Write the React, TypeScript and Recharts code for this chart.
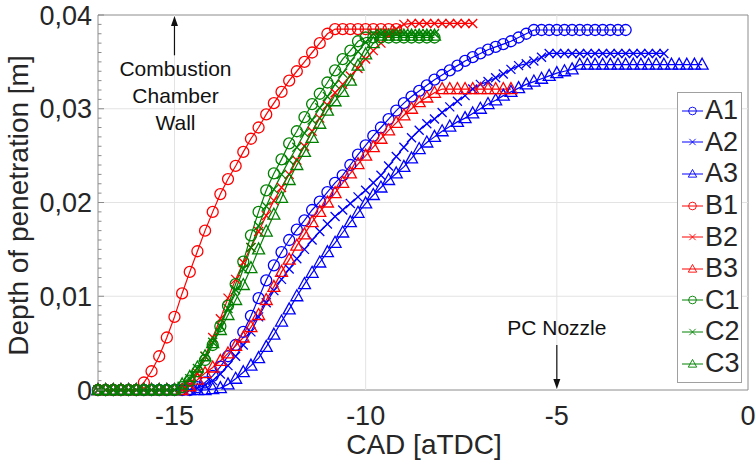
// Spray penetration depth vs crank angle for nine injection cases (A1..C3)
import React from 'react';
import {
  LineChart,
  Line,
  XAxis,
  YAxis,
  ReferenceLine,
  ReferenceArea,
  ReferenceDot,
} from 'recharts';

// crank angle samples [deg aTDC]
const cad = [
  -17, -16.8, -16.6, -16.4, -16.2, -16, -15.8, -15.6, -15.4, -15.2,
  -15, -14.8, -14.6, -14.4, -14.2, -14, -13.8, -13.6, -13.4, -13.2,
  -13, -12.8, -12.6, -12.4, -12.2, -12, -11.8, -11.6, -11.4, -11.2,
  -11, -10.8, -10.6, -10.4, -10.2, -10, -9.8, -9.6, -9.4, -9.2,
  -9, -8.8, -8.6, -8.4, -8.2, -8, -7.8, -7.6, -7.4, -7.2,
  -7, -6.8, -6.6, -6.4, -6.2, -6, -5.8, -5.6, -5.4, -5.2,
  -5, -4.8, -4.6, -4.4, -4.2, -4, -3.8, -3.6, -3.4, -3.2,
  -3, -2.8, -2.6, -2.4, -2.2, -2, -1.8, -1.6, -1.4, -1.2,
];

// penetration depth [m], one value per cad sample (series stop where they end)
const A1 = [
  0, 0, 0, 0, 0, 0, 0, 0, 0, 0,
  0, 0, 0, 0.0003, 0.0008, 0.0015, 0.0025, 0.0036, 0.0048, 0.0062,
  0.0079, 0.0098, 0.0117, 0.0133, 0.0147, 0.016, 0.0171, 0.0181, 0.0192, 0.0201,
  0.0211, 0.0221, 0.0229, 0.024, 0.0251, 0.0261, 0.0271, 0.028, 0.0289, 0.0298,
  0.0306, 0.0313, 0.0319, 0.0325, 0.0331, 0.0336, 0.0341, 0.0346, 0.0351, 0.0355,
  0.0359, 0.0363, 0.0366, 0.0369, 0.0372, 0.0376, 0.038, 0.0384, 0.0384, 0.0384,
  0.0384, 0.0384, 0.0384, 0.0384, 0.0384, 0.0384, 0.0384, 0.0384, 0.0384, 0.0384,
];
const A2 = [
  0, 0, 0, 0, 0, 0, 0, 0, 0, 0,
  0, 0, 0, 0.0002, 0.0005, 0.001, 0.0017, 0.0026, 0.0036, 0.0048,
  0.0062, 0.0078, 0.0093, 0.0106, 0.0118, 0.0129, 0.014, 0.015, 0.016, 0.0169,
  0.0177, 0.0185, 0.0192, 0.0199, 0.0206, 0.0213, 0.0221, 0.0229, 0.0239, 0.0249,
  0.0259, 0.0269, 0.0277, 0.0284, 0.0289, 0.0296, 0.0302, 0.0308, 0.0314, 0.0321,
  0.0326, 0.0329, 0.0333, 0.0337, 0.0342, 0.0346, 0.0348, 0.0351, 0.0355, 0.0359,
  0.0359, 0.0359, 0.0359, 0.0359, 0.0359, 0.0359, 0.0359, 0.0359, 0.0359, 0.0359,
  0.0359, 0.0359, 0.0359, 0.0359, 0.0359,
];
const A3 = [
  0, 0, 0, 0, 0, 0, 0, 0, 0, 0,
  0, 0, 0, 0, 0, 0.0001, 0.0002, 0.0006, 0.0012, 0.0019,
  0.0026, 0.0034, 0.0046, 0.0059, 0.0073, 0.0086, 0.01, 0.0113, 0.0125, 0.0136,
  0.0147, 0.0157, 0.0168, 0.0179, 0.0189, 0.0199, 0.0208, 0.0216, 0.0224, 0.0231,
  0.0238, 0.0247, 0.0257, 0.0264, 0.027, 0.0276, 0.0281, 0.0286, 0.029, 0.0295,
  0.03, 0.0305, 0.0309, 0.0314, 0.0318, 0.0322, 0.0326, 0.0329, 0.0332, 0.0335,
  0.0338, 0.034, 0.0342, 0.0347, 0.0347, 0.0347, 0.0347, 0.0347, 0.0347, 0.0347,
  0.0347, 0.0347, 0.0347, 0.0347, 0.0347, 0.0347, 0.0347, 0.0347, 0.0347, 0.0347,
];
const B1 = [
  0, 0, 0, 0, 0, 0, 0.0008, 0.002, 0.0036, 0.0056,
  0.0078, 0.0103, 0.0126, 0.0148, 0.017, 0.019, 0.0209, 0.0225, 0.0239, 0.0254,
  0.0268, 0.028, 0.0294, 0.0306, 0.0318, 0.033, 0.034, 0.035, 0.036, 0.037,
  0.038, 0.0385, 0.0385, 0.0385, 0.0385, 0.0385, 0.0385, 0.0385, 0.0385, 0.0385,
];
const B2 = [
  0, 0, 0, 0, 0, 0, 0, 0, 0, 0,
  0, 0, 0.0005, 0.0018, 0.0036, 0.0056, 0.0076, 0.0098, 0.0118, 0.0136,
  0.0152, 0.0169, 0.0186, 0.0202, 0.0216, 0.023, 0.0245, 0.026, 0.0276, 0.029,
  0.0304, 0.0317, 0.0326, 0.0335, 0.0343, 0.0353, 0.0362, 0.037, 0.0378, 0.0385,
  0.039, 0.0391, 0.0391, 0.0391, 0.0391, 0.0391, 0.0391, 0.0391, 0.0391, 0.0391,
];
const B3 = [
  0, 0, 0, 0, 0, 0, 0, 0, 0, 0,
  0, 0, 0.0004, 0.0011, 0.0018, 0.0024, 0.0031, 0.0039, 0.0047, 0.0056,
  0.0067, 0.008, 0.0096, 0.011, 0.0126, 0.0139, 0.0154, 0.0166, 0.0179, 0.019,
  0.02, 0.021, 0.0221, 0.0231, 0.0241, 0.025, 0.0259, 0.0268, 0.0277, 0.0285,
  0.0293, 0.03, 0.0307, 0.0312, 0.0317, 0.0321, 0.0321, 0.0321, 0.0321, 0.0321,
  0.0321, 0.0321, 0.0321, 0.0321, 0.0321,
];
const C1 = [
  0, 0, 0, 0, 0, 0, 0, 0, 0, 0,
  0, 0.0003, 0.001, 0.002, 0.0032, 0.0048, 0.0068, 0.009, 0.0113, 0.0137,
  0.0165, 0.019, 0.0213, 0.0231, 0.0246, 0.0263, 0.0276, 0.0291, 0.0305, 0.0316,
  0.0328, 0.0341, 0.0353, 0.0362, 0.0372, 0.0376, 0.0376, 0.0376, 0.0376, 0.0376,
  0.0376, 0.0376, 0.0376, 0.0376, 0.0376,
];
const C2 = [
  0, 0, 0, 0, 0, 0, 0, 0, 0, 0,
  0, 0.0004, 0.0012, 0.0023, 0.0036, 0.0051, 0.0068, 0.0087, 0.0107, 0.0129,
  0.0152, 0.0175, 0.0196, 0.0214, 0.023, 0.0245, 0.0259, 0.0274, 0.0288, 0.0301,
  0.0313, 0.0326, 0.0338, 0.035, 0.0361, 0.0371, 0.038, 0.038, 0.038, 0.038,
  0.038, 0.038, 0.038, 0.038, 0.038,
];
const C3 = [
  0, 0, 0, 0, 0, 0, 0, 0, 0, 0,
  0, 0.0006, 0.0014, 0.0024, 0.0036, 0.005, 0.0064, 0.008, 0.0096, 0.0112,
  0.013, 0.015, 0.0169, 0.0187, 0.0205, 0.0224, 0.024, 0.0254, 0.0269, 0.0284,
  0.0298, 0.0308, 0.0318, 0.033, 0.0346, 0.0358, 0.037, 0.0378, 0.0378, 0.0378,
  0.0378, 0.0378, 0.0378, 0.0378, 0.0378,
];

const xTicks = [-15, -10, -5, 0];
const yGrid = [0.01, 0.02, 0.03];
const xGrid = [-15, -10, -5];
// minor ticks every 0.001 m, labels only on the 0.01 ones
const yTicks = Array.from({ length: 41 }, (_, i) => i / 1000);

const BLUE = '#0000ff';
const RED = '#ff0000';
const GREEN = '#008000';
const TXT = '#262626';
const FONT = '"Liberation Sans", Arial, Helvetica, sans-serif';

type MarkerKind = 'o' | 'x' | '^';

const series: { name: string; values: number[]; color: string; marker: MarkerKind }[] = [
  { name: 'A1', values: A1, color: BLUE, marker: 'o' },
  { name: 'A2', values: A2, color: BLUE, marker: 'x' },
  { name: 'A3', values: A3, color: BLUE, marker: '^' },
  { name: 'B1', values: B1, color: RED, marker: 'o' },
  { name: 'B2', values: B2, color: RED, marker: 'x' },
  { name: 'B3', values: B3, color: RED, marker: '^' },
  { name: 'C1', values: C1, color: GREEN, marker: 'o' },
  { name: 'C2', values: C2, color: GREEN, marker: 'x' },
  { name: 'C3', values: C3, color: GREEN, marker: '^' },
];

const rows = cad.map((x, i) => {
  const r: Record<string, number> = { x };
  series.forEach((s) => {
    if (i < s.values.length) r[s.name] = s.values[i];
  });
  return r;
});

const isMajor = (v: number) => Math.abs(v * 100 - Math.round(v * 100)) < 1e-6;
const fmtY = (v: number) => (v === 0 ? '0' : v.toFixed(2).replace('.', ','));

/** hollow MATLAB-style marker */
function Marker({ kind, cx, cy, color }: { kind: MarkerKind; cx: number; cy: number; color: string }) {
  if (kind === 'o') {
    return <circle cx={cx} cy={cy} r={5.5} fill="none" stroke={color} strokeWidth={1.3} />;
  }
  if (kind === 'x') {
    return (
      <path
        d={`M${cx - 4.5},${cy - 4.5}L${cx + 4.5},${cy + 4.5}M${cx - 4.5},${cy + 4.5}L${cx + 4.5},${cy - 4.5}`}
        stroke={color}
        strokeWidth={1.3}
        fill="none"
      />
    );
  }
  return (
    <path
      d={`M${cx},${cy - 6.5}L${cx + 6},${cy + 4.5}L${cx - 6},${cy + 4.5}Z`}
      stroke={color}
      strokeWidth={1.3}
      fill="none"
    />
  );
}

function LeftTick(props: any) {
  const { x, y, payload } = props;
  const v = payload.value as number;
  const major = isMajor(v);
  const ax = x + 6;
  return (
    <g>
      <line x1={ax} x2={ax + (major ? 6 : 3.5)} y1={y} y2={y} stroke="#8c8c8c" strokeWidth={1} />
      {major && (
        <text x={x} y={y} dy="0.36em" textAnchor="end" fontSize={27} fill={TXT}>
          {fmtY(v)}
        </text>
      )}
    </g>
  );
}

function RightTick(props: any) {
  const { x, y, payload } = props;
  const major = isMajor(payload.value);
  return <line x1={x} x2={x - (major ? 6 : 3.5)} y1={y} y2={y} stroke="#8c8c8c" strokeWidth={1} />;
}

function Legendbox() {
  return (
    <div
      style={{
        position: 'absolute',
        left: 677,
        top: 92,
        width: 65,
        height: 291,
        border: '1px solid #a0a0a0',
        background: '#fff',
        boxSizing: 'border-box',
        paddingTop: 2,
        fontFamily: FONT,
      }}
    >
      {series.map((s) => (
        <div key={s.name} style={{ display: 'flex', alignItems: 'center', height: 31.6 }}>
          <svg width={27} height={20} style={{ flex: 'none' }}>
            <line x1={4} x2={25} y1={10} y2={10} stroke={s.color} strokeWidth={1} />
            <g transform="translate(14.5,10) scale(0.7) translate(-14.5,-10)">
              <Marker kind={s.marker} cx={14.5} cy={10} color={s.color} />
            </g>
          </svg>
          <span style={{ fontSize: 27, color: TXT, lineHeight: 1 }}>{s.name}</span>
        </div>
      ))}
    </div>
  );
}

export default function App() {
  return (
    <div style={{ position: 'absolute', left: 0, top: 0, width: 755, height: 469, background: '#fff' }}>
      <LineChart
        width={755}
        height={469}
        data={rows}
        margin={{ top: 15, right: 7, bottom: 0, left: 0 }}
        style={{ fontFamily: FONT }}
      >
        <XAxis
          dataKey="x"
          type="number"
          domain={[-17, 0]}
          ticks={xTicks}
          interval={0}
          height={79}
          axisLine={false}
          tickLine={false}
          tickSize={0}
          tickMargin={16}
          tick={{ fontSize: 27, fill: TXT }}
          label={{
            content: (p: any) => {
              const vb = p.viewBox;
              return (
                <text x={vb.x + vb.width / 2 + 1} y={454} textAnchor="middle" fontSize={28} fill={TXT}>
                  CAD [aTDC]
                </text>
              );
            },
          }}
        />
        <YAxis
          type="number"
          domain={[0, 0.04]}
          ticks={yTicks}
          interval={0}
          width={98}
          axisLine={false}
          tickLine={false}
          tickSize={0}
          tickMargin={6}
          tick={<LeftTick />}
          label={{
            content: (p: any) => {
              const vb = p.viewBox;
              const cy = vb.y + vb.height / 2 + 3;
              return (
                <text
                  x={28}
                  y={cy}
                  transform={`rotate(-90 28 ${cy})`}
                  textAnchor="middle"
                  fontSize={28}
                  fill={TXT}
                >
                  Depth of penetration [m]
                </text>
              );
            },
          }}
        />
        <YAxis
          yAxisId="r"
          orientation="right"
          type="number"
          domain={[0, 0.04]}
          ticks={yTicks}
          interval={0}
          width={0}
          axisLine={false}
          tickLine={false}
          tickSize={0}
          tickMargin={0}
          tick={<RightTick />}
        />

        {yGrid.map((v) => (
          <ReferenceLine key={`gy${v}`} y={v} stroke="#e3e3e3" strokeWidth={1} />
        ))}
        {xGrid.map((v) => (
          <ReferenceLine key={`gx${v}`} x={v} stroke="#e3e3e3" strokeWidth={1} />
        ))}
        <ReferenceArea x1={-17} x2={0} y1={0} y2={0.04} fill="none" stroke="#8c8c8c" strokeWidth={1} />

        {series.map((s) => (
          <Line
            key={s.name}
            dataKey={s.name}
            name={s.name}
            type="linear"
            stroke={s.color}
            strokeWidth={1.2}
            connectNulls={false}
            isAnimationActive={false}
            activeDot={false}
            dot={(p: any) =>
              p.cx == null || p.cy == null || p.value == null ? (
                <g key={`${s.name}-${p.index}`} />
              ) : (
                <g key={`${s.name}-${p.index}`}>
                  <Marker kind={s.marker} cx={p.cx} cy={p.cy} color={s.color} />
                </g>
              )
            }
          />
        ))}

        {/* Combustion chamber wall annotation */}
        <ReferenceLine
          segment={[
            { x: -15, y: 0.0357 },
            { x: -15, y: 0.039 },
          ]}
          stroke="#111"
          strokeWidth={1.2}
        />
        <ReferenceDot
          x={-15}
          y={0.04}
          r={0}
          shape={(p: any) => (
            <path d={`M${p.cx},${p.cy + 1}L${p.cx - 3.5},${p.cy + 11}L${p.cx + 3.5},${p.cy + 11}Z`} fill="#111" />
          )}
        />
        <ReferenceDot
          x={-15}
          y={0.0335}
          r={0}
          shape={(p: any) => (
            <text x={p.cx + 1} y={p.cy} textAnchor="middle" fontSize={21} fill="#111">
              <tspan x={p.cx + 1} dy={0}>Combustion</tspan>
              <tspan x={p.cx + 1} dy={27}>Chamber</tspan>
              <tspan x={p.cx + 1} dy={27}>Wall</tspan>
            </text>
          )}
        />

        {/* PC nozzle annotation */}
        <ReferenceDot
          x={-5}
          y={0.0059}
          r={0}
          shape={(p: any) => (
            <text x={p.cx} y={p.cy} textAnchor="middle" fontSize={21} fill="#111">
              PC Nozzle
            </text>
          )}
        />
        <ReferenceLine
          segment={[
            { x: -5, y: 0.0048 },
            { x: -5, y: 0.0011 },
          ]}
          stroke="#111"
          strokeWidth={1.2}
        />
        <ReferenceDot
          x={-5}
          y={0}
          r={0}
          shape={(p: any) => (
            <path d={`M${p.cx},${p.cy - 1}L${p.cx - 3.5},${p.cy - 11}L${p.cx + 3.5},${p.cy - 11}Z`} fill="#111" />
          )}
        />
      </LineChart>
      <Legendbox />
    </div>
  );
}
